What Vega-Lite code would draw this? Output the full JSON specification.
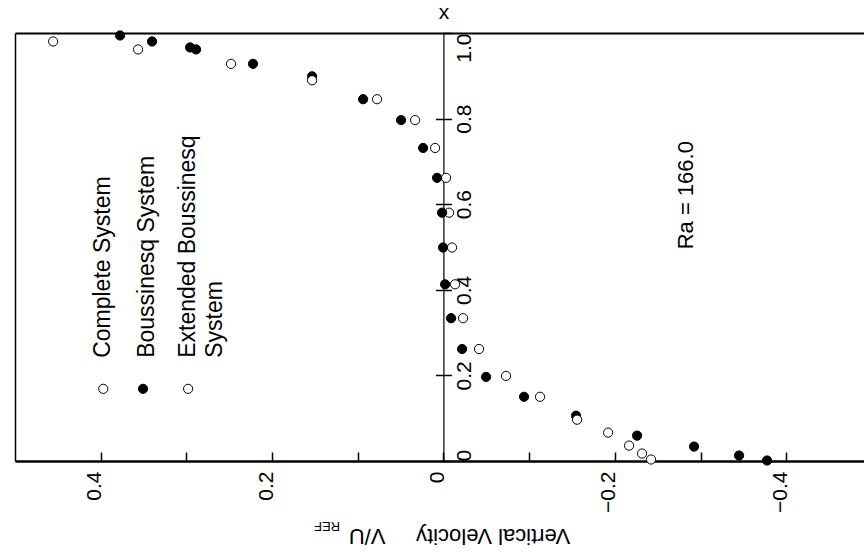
{
  "$schema": "https://vega.github.io/schema/vega-lite/v6.json",
  "autosize": "none",
  "padding": {"left": 15, "top": 33, "right": 0, "bottom": 97},
  "width": 849,
  "height": 428,
  "background": "white",
  "config": {
    "view": {"stroke": null},
    "font": "Liberation Sans",
    "axis": {"domainColor": "black", "tickColor": "black", "labelColor": "black", "titleColor": "black", "labelFont": "Liberation Sans", "titleFont": "Liberation Sans", "labelFontSize": 21, "titleFontWeight": "normal", "grid": false, "labelOverlap": false, "labelBound": false}
  },
  "resolve": {"axis": {"x": "independent", "y": "independent"}},
  "layer": [
    {
      "data": {"values": [
        {"series": "Complete System", "V": 0.4555, "X": 0.9802},
        {"series": "Complete System", "V": 0.3564, "X": 0.9616},
        {"series": "Complete System", "V": 0.2479, "X": 0.9279},
        {"series": "Complete System", "V": 0.0775, "X": 0.8453},
        {"series": "Complete System", "V": 0.0331, "X": 0.7965},
        {"series": "Complete System", "V": 0.0098, "X": 0.7314},
        {"series": "Complete System", "V": -0.0030, "X": 0.6616},
        {"series": "Complete System", "V": -0.0065, "X": 0.5802},
        {"series": "Complete System", "V": -0.0100, "X": 0.4988},
        {"series": "Complete System", "V": -0.0135, "X": 0.4128},
        {"series": "Complete System", "V": -0.0229, "X": 0.3337},
        {"series": "Complete System", "V": -0.0415, "X": 0.2616},
        {"series": "Complete System", "V": -0.0730, "X": 0.1988},
        {"series": "Complete System", "V": -0.1127, "X": 0.1500},
        {"series": "Complete System", "V": -0.1921, "X": 0.0663},
        {"series": "Complete System", "V": -0.2166, "X": 0.0360},
        {"series": "Complete System", "V": -0.2317, "X": 0.0174},
        {"series": "Complete System", "V": -0.2422, "X": 0.0035},
        {"series": "Boussinesq System", "V": 0.3774, "X": 0.9942},
        {"series": "Boussinesq System", "V": 0.3400, "X": 0.9802},
        {"series": "Boussinesq System", "V": 0.2957, "X": 0.9663},
        {"series": "Boussinesq System", "V": 0.2887, "X": 0.9616},
        {"series": "Boussinesq System", "V": 0.2222, "X": 0.9279},
        {"series": "Boussinesq System", "V": 0.1533, "X": 0.8988},
        {"series": "Boussinesq System", "V": 0.0938, "X": 0.8453},
        {"series": "Boussinesq System", "V": 0.0495, "X": 0.7965},
        {"series": "Boussinesq System", "V": 0.0238, "X": 0.7314},
        {"series": "Boussinesq System", "V": 0.0075, "X": 0.6616},
        {"series": "Boussinesq System", "V": 0.0016, "X": 0.5802},
        {"series": "Boussinesq System", "V": 0.0005, "X": 0.4988},
        {"series": "Boussinesq System", "V": -0.0019, "X": 0.4128},
        {"series": "Boussinesq System", "V": -0.0089, "X": 0.3337},
        {"series": "Boussinesq System", "V": -0.0217, "X": 0.2616},
        {"series": "Boussinesq System", "V": -0.0497, "X": 0.1965},
        {"series": "Boussinesq System", "V": -0.0940, "X": 0.1500},
        {"series": "Boussinesq System", "V": -0.1547, "X": 0.1058},
        {"series": "Boussinesq System", "V": -0.2259, "X": 0.0593},
        {"series": "Boussinesq System", "V": -0.2924, "X": 0.0337},
        {"series": "Boussinesq System", "V": -0.3449, "X": 0.0128},
        {"series": "Boussinesq System", "V": -0.3776, "X": 0.0012},
        {"series": "Extended Boussinesq System", "V": 0.1533, "X": 0.8895},
        {"series": "Extended Boussinesq System", "V": -0.1559, "X": 0.0965}
      ]},
      "mark": {"type": "point", "shape": "circle", "filled": true, "opacity": 1, "size": 85, "stroke": "black", "strokeWidth": 1},
      "encoding": {
        "x": {"field": "V", "type": "quantitative", "scale": {"domain": [0.5, -0.4907], "nice": false, "zero": false},
          "axis": {"orient": "bottom", "values": [-0.4, -0.3, -0.2, -0.1, 0, 0.1, 0.2, 0.3, 0.4], "tickSize": -9, "tickWidth": 1.5, "domainWidth": 2.5,
            "labelAngle": -90, "labelAlign": "right", "labelBaseline": "alphabetic", "labelPadding": 19,
            "labelExpr": "abs(round(datum.value*10)) % 2 == 0 ? (datum.value == 0 ? '0' : format(datum.value, '.1f')) : ''",
            "title": "Vertical Velocity\u00a0\u00a0\u00a0\u00a0\u00a0V/U", "titleFontSize": 22, "titleAngle": 180, "titleX": 444, "titleY": 74, "titleAlign": "center", "titleBaseline": "middle"}},
        "y": {"field": "X", "type": "quantitative", "scale": {"domain": [0, 1], "nice": false, "zero": false},
          "axis": {"orient": "left", "offset": 0, "ticks": false, "labels": false, "title": null, "domainWidth": 1.5}},
        "fill": {"field": "series", "type": "nominal", "scale": {"domain": ["Complete System", "Boussinesq System", "Extended Boussinesq System"], "range": ["white", "black", "white"]}, "legend": null}
      }
    },
    {
      "data": {"values": [{"txt": "Ra = 166.0", "V": -0.283, "X": 0.621}]},
      "mark": {"type": "text", "angle": -90, "align": "center", "baseline": "middle", "fontSize": 22, "color": "black"},
      "encoding": {
        "text": {"field": "txt"},
        "x": {"field": "V", "type": "quantitative",
          "axis": {"orient": "top", "ticks": false, "labels": false, "title": null, "domainWidth": 2}},
        "y": {"field": "X", "type": "quantitative",
          "axis": {"orient": "right", "offset": -420.6, "values": [0, 0.2, 0.4, 0.6, 0.8, 1], "tickSize": 8, "tickWidth": 1.5, "domainWidth": 1.2,
            "labelAngle": -90, "labelBaseline": "alphabetic", "labelPadding": 19,
            "labelAlign": {"condition": [{"test": "datum.value == 1", "value": "right"}, {"test": "datum.value == 0", "value": "left"}], "value": "center"},
            "labelExpr": "datum.value == 0 ? '0' : format(datum.value, '.1f')",
            "title": "x", "titleFontSize": 21, "titleAngle": 0, "titleX": 0, "titleY": -21, "titleAlign": "center", "titleBaseline": "middle"}}
      }
    },
    {
      "data": {"values": [
        {"txt": "Complete System", "V": 0.397, "X": 0.241},
        {"txt": "Boussinesq System", "V": 0.346, "X": 0.241},
        {"txt": "Extended Boussinesq", "V": 0.298, "X": 0.241},
        {"txt": "System", "V": 0.2665, "X": 0.241}
      ]},
      "mark": {"type": "text", "angle": -90, "align": "left", "baseline": "middle", "fontSize": 23, "color": "black"},
      "encoding": {
        "text": {"field": "txt"},
        "x": {"field": "V", "type": "quantitative", "axis": null},
        "y": {"field": "X", "type": "quantitative",
          "axis": {"orient": "left", "offset": -428.4, "values": [0.2, 0.4, 0.6, 0.8], "tickSize": 8, "tickWidth": 1.5, "domain": false, "labels": false, "title": null}}
      }
    },
    {
      "data": {"values": [
        {"series": "Complete System", "V": 0.397, "X": 0.1686},
        {"series": "Boussinesq System", "V": 0.3506, "X": 0.1686},
        {"series": "Extended Boussinesq System", "V": 0.298, "X": 0.1686}
      ]},
      "mark": {"type": "point", "shape": "circle", "filled": true, "opacity": 1, "size": 85, "stroke": "black", "strokeWidth": 1},
      "encoding": {
        "x": {"field": "V", "type": "quantitative", "axis": null},
        "y": {"field": "X", "type": "quantitative", "axis": null},
        "fill": {"field": "series", "type": "nominal", "legend": null}
      }
    },
    {
      "data": {"values": [{"txt": "REF", "V": 0.1358, "X": -0.152}]},
      "mark": {"type": "text", "angle": 180, "align": "center", "baseline": "middle", "fontSize": 13, "color": "black"},
      "encoding": {
        "text": {"field": "txt"},
        "x": {"field": "V", "type": "quantitative", "axis": null},
        "y": {"field": "X", "type": "quantitative", "axis": null}
      }
    }
  ]
}
